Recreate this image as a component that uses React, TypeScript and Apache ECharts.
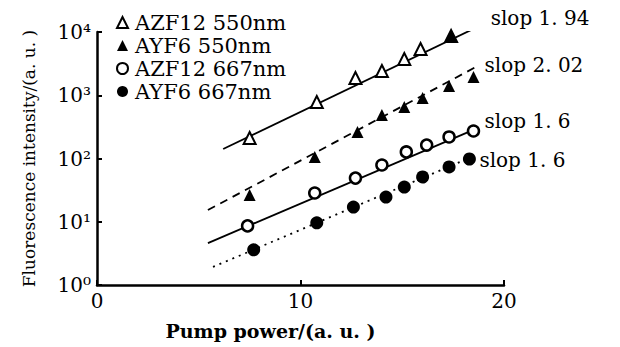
import React, { useEffect, useRef } from "react";
import * as echarts from "echarts";

// Pump power (a.u.) and fluorescence intensity (a.u.)
const xAZF550 = [7.5, 10.8, 12.7, 14.0, 15.1, 15.9, 17.4, 18.4];
const yAZF550 = [211, 782, 1875, 2417, 3742, 5385, 8650, 11150];
const xAYF550 = [7.5, 10.7, 12.8, 14.0, 15.1, 16.0, 17.3, 18.5];
const yAYF550 = [26.5, 106, 262, 487, 652, 905, 1400, 1944];
const xAZF667 = [7.4, 10.7, 12.7, 14.0, 15.2, 16.2, 17.3, 18.5];
const yAZF667 = [8.6, 28.5, 49, 79, 127, 163, 219, 272];
const xAYF667 = [7.7, 10.8, 12.6, 14.2, 15.1, 16.0, 17.3, 18.3];
const yAYF667 = [3.6, 9.6, 17.1, 24.6, 35.4, 51, 73.4, 98.2];

// fitted lines (endpoints)
const fitX1 = [6.2, 19.1];
const fitY1 = [141, 13870];
const fitX2 = [5.45, 18.8];
const fitY2 = [15.3, 3008];
const fitX3 = [5.45, 18.7];
const fitY3 = [4.6, 303];
const fitX4 = [5.7, 18.3];
const fitY4 = [1.93, 102];

const seriesNames = ["AZF12 550nm", "AYF6 550nm", "AZF12 667nm", "AYF6 667nm"];
const slopeLabels = ["slop 1. 94", "slop 2. 02", "slop 1. 6", "slop 1. 6"];
const xTicks = [0, 10, 20];
const yTickExp = ["⁰", "¹", "²", "³", "⁴"];

const FONT = "DejaVu Serif";

const zip = (xs: number[], ys: number[]) => xs.map((x, i) => [x, ys[i]]);

export default function App() {
  const ref = useRef<HTMLDivElement>(null);
  useEffect(() => {
    if (!ref.current) return;
    const chart = echarts.init(ref.current, null, { renderer: "svg" });

    const fitLine = (
      name: string,
      xs: number[],
      ys: number[],
      type: any,
      label: string,
      offset: number[]
    ) => ({
      type: "line",
      name,
      data: zip(xs, ys),
      symbol: "none",
      z: 2,
      silent: true,
      lineStyle: { color: "#000", width: 1.8, type },
      endLabel: {
        show: true,
        formatter: label,
        color: "#000",
        fontFamily: FONT,
        fontSize: 20,
        distance: 5,
        offset,
      },
    });

    const azf550Data = zip(xAZF550, yAZF550).map((v, i) =>
      i === 6 ? { value: v, itemStyle: { color: "#000" } } : v
    );

    chart.setOption({
      animation: false,
      backgroundColor: "#fff",
      grid: { left: 97, right: 116, top: 32, bottom: 62, outerBoundsMode: "none" },
      legend: {
        data: seriesNames,
        orient: "vertical",
        left: 111,
        top: 7,
        itemWidth: 11,
        itemHeight: 11,
        itemGap: 2,
        textStyle: {
          color: "#000",
          fontFamily: FONT,
          fontSize: 21,
          lineHeight: 21,
          padding: [0, 0, 0, 2],
        },
      },
      xAxis: {
        type: "value",
        min: xTicks[0],
        max: xTicks[xTicks.length - 1],
        interval: 10,
        name: "Pump power/(a. u. )",
        nameLocation: "middle",
        nameGap: 36,
        nameTextStyle: {
          color: "#000",
          fontFamily: FONT,
          fontSize: 19,
          fontWeight: "bold",
          padding: [0, 60, 0, 0],
        },
        axisLine: { lineStyle: { color: "#000", width: 2.5 } },
        axisTick: { inside: true, length: 5, lineStyle: { color: "#000", width: 2 } },
        axisLabel: { color: "#000", fontFamily: FONT, fontSize: 20, margin: 6 },
        splitLine: { show: false },
      },
      yAxis: {
        type: "log",
        logBase: 10,
        min: 1,
        max: 10000,
        name: "Fluorescence intensity/(a. u. )",
        nameLocation: "middle",
        nameGap: 60,
        nameTextStyle: { color: "#000", fontFamily: FONT, fontSize: 17 },
        axisLine: { lineStyle: { color: "#000", width: 2.5 } },
        axisTick: { inside: true, length: 5, lineStyle: { color: "#000", width: 2 } },
        minorTick: { show: false },
        axisLabel: {
          color: "#000",
          fontFamily: FONT,
          fontSize: 20,
          margin: 6,
          formatter: (v: number) => "10" + yTickExp[Math.round(Math.log10(v))],
        },
        splitLine: { show: false },
      },
      series: [
        fitLine("fit1", fitX1, fitY1, "solid", slopeLabels[0], [0, -5]),
        fitLine("fit2", fitX2, fitY2, [8, 6], slopeLabels[1], [0, 0]),
        fitLine("fit3", fitX3, fitY3, "solid", slopeLabels[2], [2, -7]),
        fitLine("fit4", fitX4, fitY4, [2, 5], slopeLabels[3], [5, 2]),
        {
          type: "scatter",
          name: seriesNames[0],
          data: azf550Data,
          symbol: "triangle",
          symbolSize: 12,
          z: 5,
          itemStyle: { color: "#fff", borderColor: "#000", borderWidth: 2, opacity: 1 },
        },
        {
          type: "scatter",
          name: seriesNames[1],
          data: zip(xAYF550, yAYF550),
          symbol: "triangle",
          symbolSize: 12,
          z: 5,
          itemStyle: { color: "#000", opacity: 1 },
        },
        {
          type: "scatter",
          name: seriesNames[2],
          data: zip(xAZF667, yAZF667),
          symbol: "circle",
          symbolSize: 11,
          z: 5,
          itemStyle: { color: "#fff", borderColor: "#000", borderWidth: 2.5, opacity: 1 },
        },
        {
          type: "scatter",
          name: seriesNames[3],
          data: zip(xAYF667, yAYF667),
          symbol: "circle",
          symbolSize: 13,
          z: 5,
          itemStyle: { color: "#000", opacity: 1 },
        },
      ],
    });
    return () => chart.dispose();
  }, []);

  return (
    <div
      ref={ref}
      style={{ position: "fixed", left: 0, top: 0, width: 620, height: 347, background: "#fff" }}
    />
  );
}
